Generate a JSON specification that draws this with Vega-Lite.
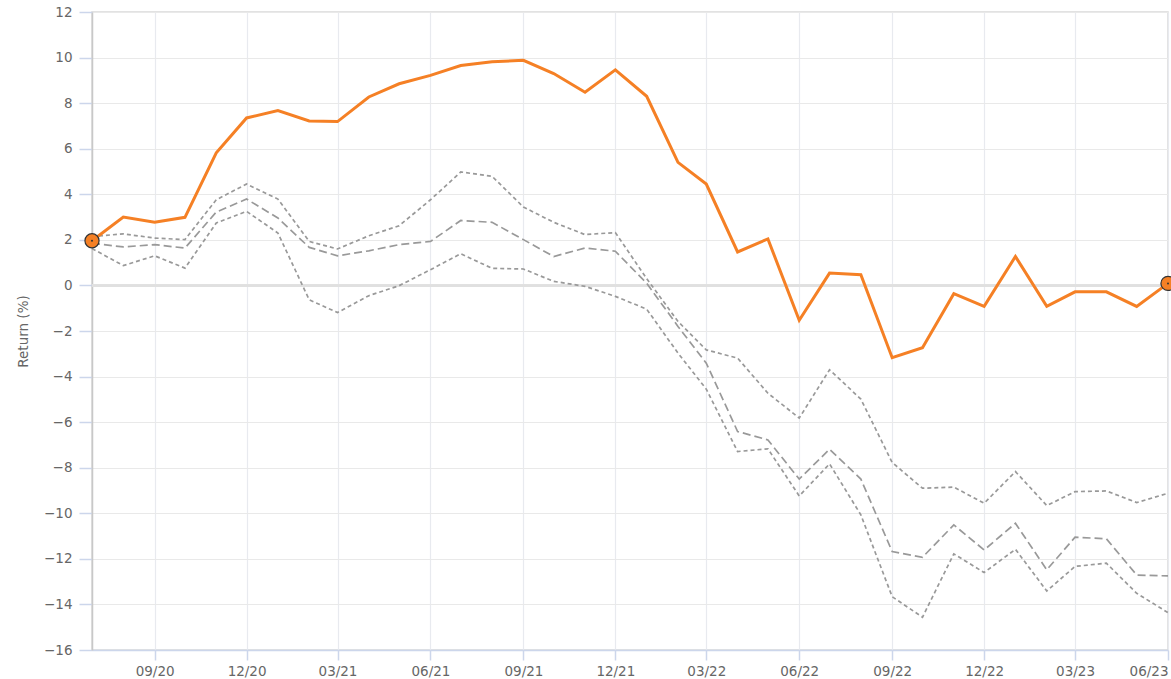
{
  "$schema": "https://vega.github.io/schema/vega-lite/v6.json",
  "width": 1076,
  "height": 638,
  "autosize": "none",
  "padding": {"left": 92, "top": 12, "right": 3, "bottom": 29},
  "background": "white",
  "config": {
    "view": {"stroke": "#d9d9d9", "strokeWidth": 1.5},
    "font": "DejaVu Sans"
  },
  "datasets": {
    "series": [
      {"d": "2020-07-01", "s": "Fund", "v": 1.96}, {"d": "2020-08-01", "s": "Fund", "v": 3.0}, {"d": "2020-09-01", "s": "Fund", "v": 2.77}, {"d": "2020-10-01", "s": "Fund", "v": 2.99},
      {"d": "2020-11-01", "s": "Fund", "v": 5.82}, {"d": "2020-12-01", "s": "Fund", "v": 7.35}, {"d": "2021-01-01", "s": "Fund", "v": 7.67}, {"d": "2021-02-01", "s": "Fund", "v": 7.22},
      {"d": "2021-03-01", "s": "Fund", "v": 7.19}, {"d": "2021-04-01", "s": "Fund", "v": 8.27}, {"d": "2021-05-01", "s": "Fund", "v": 8.85}, {"d": "2021-06-01", "s": "Fund", "v": 9.22},
      {"d": "2021-07-01", "s": "Fund", "v": 9.65}, {"d": "2021-08-01", "s": "Fund", "v": 9.82}, {"d": "2021-09-01", "s": "Fund", "v": 9.88}, {"d": "2021-10-01", "s": "Fund", "v": 9.30},
      {"d": "2021-11-01", "s": "Fund", "v": 8.48}, {"d": "2021-12-01", "s": "Fund", "v": 9.46}, {"d": "2022-01-01", "s": "Fund", "v": 8.30}, {"d": "2022-02-01", "s": "Fund", "v": 5.40},
      {"d": "2022-03-01", "s": "Fund", "v": 4.45}, {"d": "2022-04-01", "s": "Fund", "v": 1.47}, {"d": "2022-05-01", "s": "Fund", "v": 2.04}, {"d": "2022-06-01", "s": "Fund", "v": -1.53},
      {"d": "2022-07-01", "s": "Fund", "v": 0.54}, {"d": "2022-08-01", "s": "Fund", "v": 0.47}, {"d": "2022-09-01", "s": "Fund", "v": -3.17}, {"d": "2022-10-01", "s": "Fund", "v": -2.73},
      {"d": "2022-11-01", "s": "Fund", "v": -0.36}, {"d": "2022-12-01", "s": "Fund", "v": -0.92}, {"d": "2023-01-01", "s": "Fund", "v": 1.27}, {"d": "2023-02-01", "s": "Fund", "v": -0.92},
      {"d": "2023-03-01", "s": "Fund", "v": -0.28}, {"d": "2023-04-01", "s": "Fund", "v": -0.28}, {"d": "2023-05-01", "s": "Fund", "v": -0.92}, {"d": "2023-06-01", "s": "Fund", "v": 0.09},

      {"d": "2020-07-01", "s": "A", "v": 2.15}, {"d": "2020-08-01", "s": "A", "v": 2.26}, {"d": "2020-09-01", "s": "A", "v": 2.08}, {"d": "2020-10-01", "s": "A", "v": 2.01},
      {"d": "2020-11-01", "s": "A", "v": 3.76}, {"d": "2020-12-01", "s": "A", "v": 4.45}, {"d": "2021-01-01", "s": "A", "v": 3.79}, {"d": "2021-02-01", "s": "A", "v": 1.93},
      {"d": "2021-03-01", "s": "A", "v": 1.60}, {"d": "2021-04-01", "s": "A", "v": 2.18}, {"d": "2021-05-01", "s": "A", "v": 2.62}, {"d": "2021-06-01", "s": "A", "v": 3.76},
      {"d": "2021-07-01", "s": "A", "v": 4.98}, {"d": "2021-08-01", "s": "A", "v": 4.79}, {"d": "2021-09-01", "s": "A", "v": 3.44}, {"d": "2021-10-01", "s": "A", "v": 2.77},
      {"d": "2021-11-01", "s": "A", "v": 2.23}, {"d": "2021-12-01", "s": "A", "v": 2.32}, {"d": "2022-01-01", "s": "A", "v": 0.3}, {"d": "2022-02-01", "s": "A", "v": -1.58},
      {"d": "2022-03-01", "s": "A", "v": -2.83}, {"d": "2022-04-01", "s": "A", "v": -3.19}, {"d": "2022-05-01", "s": "A", "v": -4.73}, {"d": "2022-06-01", "s": "A", "v": -5.82},
      {"d": "2022-07-01", "s": "A", "v": -3.70}, {"d": "2022-08-01", "s": "A", "v": -4.99}, {"d": "2022-09-01", "s": "A", "v": -7.77}, {"d": "2022-10-01", "s": "A", "v": -8.90},
      {"d": "2022-11-01", "s": "A", "v": -8.85}, {"d": "2022-12-01", "s": "A", "v": -9.56}, {"d": "2023-01-01", "s": "A", "v": -8.17}, {"d": "2023-02-01", "s": "A", "v": -9.66},
      {"d": "2023-03-01", "s": "A", "v": -9.05}, {"d": "2023-04-01", "s": "A", "v": -9.02}, {"d": "2023-05-01", "s": "A", "v": -9.53}, {"d": "2023-06-01", "s": "A", "v": -9.12},

      {"d": "2020-07-01", "s": "B", "v": 1.85}, {"d": "2020-08-01", "s": "B", "v": 1.69}, {"d": "2020-09-01", "s": "B", "v": 1.79}, {"d": "2020-10-01", "s": "B", "v": 1.64},
      {"d": "2020-11-01", "s": "B", "v": 3.22}, {"d": "2020-12-01", "s": "B", "v": 3.79}, {"d": "2021-01-01", "s": "B", "v": 2.96}, {"d": "2021-02-01", "s": "B", "v": 1.67},
      {"d": "2021-03-01", "s": "B", "v": 1.30}, {"d": "2021-04-01", "s": "B", "v": 1.52}, {"d": "2021-05-01", "s": "B", "v": 1.79}, {"d": "2021-06-01", "s": "B", "v": 1.93},
      {"d": "2021-07-01", "s": "B", "v": 2.85}, {"d": "2021-08-01", "s": "B", "v": 2.77}, {"d": "2021-09-01", "s": "B", "v": 2.01}, {"d": "2021-10-01", "s": "B", "v": 1.27},
      {"d": "2021-11-01", "s": "B", "v": 1.64}, {"d": "2021-12-01", "s": "B", "v": 1.50}, {"d": "2022-01-01", "s": "B", "v": 0.1}, {"d": "2022-02-01", "s": "B", "v": -1.80},
      {"d": "2022-03-01", "s": "B", "v": -3.41}, {"d": "2022-04-01", "s": "B", "v": -6.41}, {"d": "2022-05-01", "s": "B", "v": -6.78}, {"d": "2022-06-01", "s": "B", "v": -8.50},
      {"d": "2022-07-01", "s": "B", "v": -7.19}, {"d": "2022-08-01", "s": "B", "v": -8.50}, {"d": "2022-09-01", "s": "B", "v": -11.68}, {"d": "2022-10-01", "s": "B", "v": -11.93},
      {"d": "2022-11-01", "s": "B", "v": -10.51}, {"d": "2022-12-01", "s": "B", "v": -11.61}, {"d": "2023-01-01", "s": "B", "v": -10.44}, {"d": "2023-02-01", "s": "B", "v": -12.48},
      {"d": "2023-03-01", "s": "B", "v": -11.05}, {"d": "2023-04-01", "s": "B", "v": -11.12}, {"d": "2023-05-01", "s": "B", "v": -12.71}, {"d": "2023-06-01", "s": "B", "v": -12.75},

      {"d": "2020-07-01", "s": "C", "v": 1.62}, {"d": "2020-08-01", "s": "C", "v": 0.87}, {"d": "2020-09-01", "s": "C", "v": 1.30}, {"d": "2020-10-01", "s": "C", "v": 0.76},
      {"d": "2020-11-01", "s": "C", "v": 2.74}, {"d": "2020-12-01", "s": "C", "v": 3.25}, {"d": "2021-01-01", "s": "C", "v": 2.30}, {"d": "2021-02-01", "s": "C", "v": -0.63},
      {"d": "2021-03-01", "s": "C", "v": -1.19}, {"d": "2021-04-01", "s": "C", "v": -0.45}, {"d": "2021-05-01", "s": "C", "v": -0.01}, {"d": "2021-06-01", "s": "C", "v": 0.69},
      {"d": "2021-07-01", "s": "C", "v": 1.39}, {"d": "2021-08-01", "s": "C", "v": 0.75}, {"d": "2021-09-01", "s": "C", "v": 0.72}, {"d": "2021-10-01", "s": "C", "v": 0.18},
      {"d": "2021-11-01", "s": "C", "v": -0.04}, {"d": "2021-12-01", "s": "C", "v": -0.48}, {"d": "2022-01-01", "s": "C", "v": -1.04}, {"d": "2022-02-01", "s": "C", "v": -2.97},
      {"d": "2022-03-01", "s": "C", "v": -4.55}, {"d": "2022-04-01", "s": "C", "v": -7.29}, {"d": "2022-05-01", "s": "C", "v": -7.17}, {"d": "2022-06-01", "s": "C", "v": -9.24},
      {"d": "2022-07-01", "s": "C", "v": -7.83}, {"d": "2022-08-01", "s": "C", "v": -10.07}, {"d": "2022-09-01", "s": "C", "v": -13.66}, {"d": "2022-10-01", "s": "C", "v": -14.56},
      {"d": "2022-11-01", "s": "C", "v": -11.78}, {"d": "2022-12-01", "s": "C", "v": -12.60}, {"d": "2023-01-01", "s": "C", "v": -11.58}, {"d": "2023-02-01", "s": "C", "v": -13.41},
      {"d": "2023-03-01", "s": "C", "v": -12.33}, {"d": "2023-04-01", "s": "C", "v": -12.19}, {"d": "2023-05-01", "s": "C", "v": -13.51}, {"d": "2023-06-01", "s": "C", "v": -14.36}
    ]
  },
  "data": {"name": "series"},
  "encoding": {
    "x": {
      "field": "d",
      "type": "temporal",
      "scale": {"domain": ["2020-07-01", "2023-06-01"], "nice": false},
      "axis": {
        "title": null,
        "format": "%m/%y",
        "values": ["2020-09-01", "2020-12-01", "2021-03-01", "2021-06-01", "2021-09-01", "2021-12-01", "2022-03-01", "2022-06-01", "2022-09-01", "2022-12-01", "2023-03-01", "2023-06-01"],
        "grid": true,
        "gridColor": "#e8eaef",
        "gridWidth": 1.2,
        "domainColor": "#ccd6eb",
        "domainWidth": 1.5,
        "tickColor": "#ccd6eb",
        "tickSize": 10,
        "tickWidth": 1.5,
        "labelColor": "#666666",
        "labelFont": "DejaVu Sans",
        "labelFontSize": 13.5,
        "labelPadding": 4,
        "labelFlush": true,
        "labelOverlap": false
      }
    },
    "y": {
      "field": "v",
      "type": "quantitative",
      "scale": {"domain": [-16, 12], "nice": false, "zero": false},
      "axis": {
        "title": "Return (%)",
        "titleColor": "#666666",
        "titleFont": "DejaVu Sans",
        "titleFontSize": 13.5,
        "titleFontWeight": "normal",
        "titlePadding": 13,
        "values": [-16, -14, -12, -10, -8, -6, -4, -2, 0, 2, 4, 6, 8, 10, 12],
        "grid": true,
        "gridColor": "#e9e9e9",
        "gridWidth": 1.2,
        "domainColor": "#c8c8c8",
        "domainWidth": 1.5,
        "tickColor": "#ccd6eb",
        "tickSize": 13,
        "tickWidth": 1.5,
        "labelColor": "#666666",
        "labelFont": "DejaVu Sans",
        "labelFontSize": 13.5,
        "labelPadding": 7,
        "labelOverlap": false
      }
    }
  },
  "layer": [
    {
      "mark": {"type": "rule", "color": "#e0e0e0", "strokeWidth": 2.2},
      "encoding": {"y": {"datum": 0}, "x": null}
    },
    {
      "transform": [{"filter": "datum.s !== 'Fund'"}],
      "mark": {"type": "line", "strokeWidth": 1.7, "color": "#999999"},
      "encoding": {
        "detail": {"field": "s"},
        "strokeDash": {
          "field": "s",
          "type": "nominal",
          "scale": {"domain": ["A", "B", "C"], "range": [[4, 3], [8, 4], [4, 3]]},
          "legend": null
        }
      }
    },
    {
      "transform": [{"filter": "datum.s === 'Fund'"}],
      "mark": {"type": "line", "strokeWidth": 3, "color": "#f58025"},
      "encoding": {}
    },
    {
      "transform": [{"filter": "datum.s === 'Fund' && (toDate(datum.d) < toDate('2020-07-15') || toDate(datum.d) > toDate('2023-05-15'))"}],
      "mark": {"type": "point", "shape": "circle", "filled": true, "fill": "#f58025", "stroke": "#333333", "strokeWidth": 1.2, "size": 200, "opacity": 1},
      "encoding": {}
    },
    {
      "transform": [{"filter": "datum.s === 'Fund' && (toDate(datum.d) < toDate('2020-07-15') || toDate(datum.d) > toDate('2023-05-15'))"}],
      "mark": {"type": "point", "shape": "circle", "filled": true, "fill": "#333333", "size": 4, "opacity": 1},
      "encoding": {}
    }
  ]
}
